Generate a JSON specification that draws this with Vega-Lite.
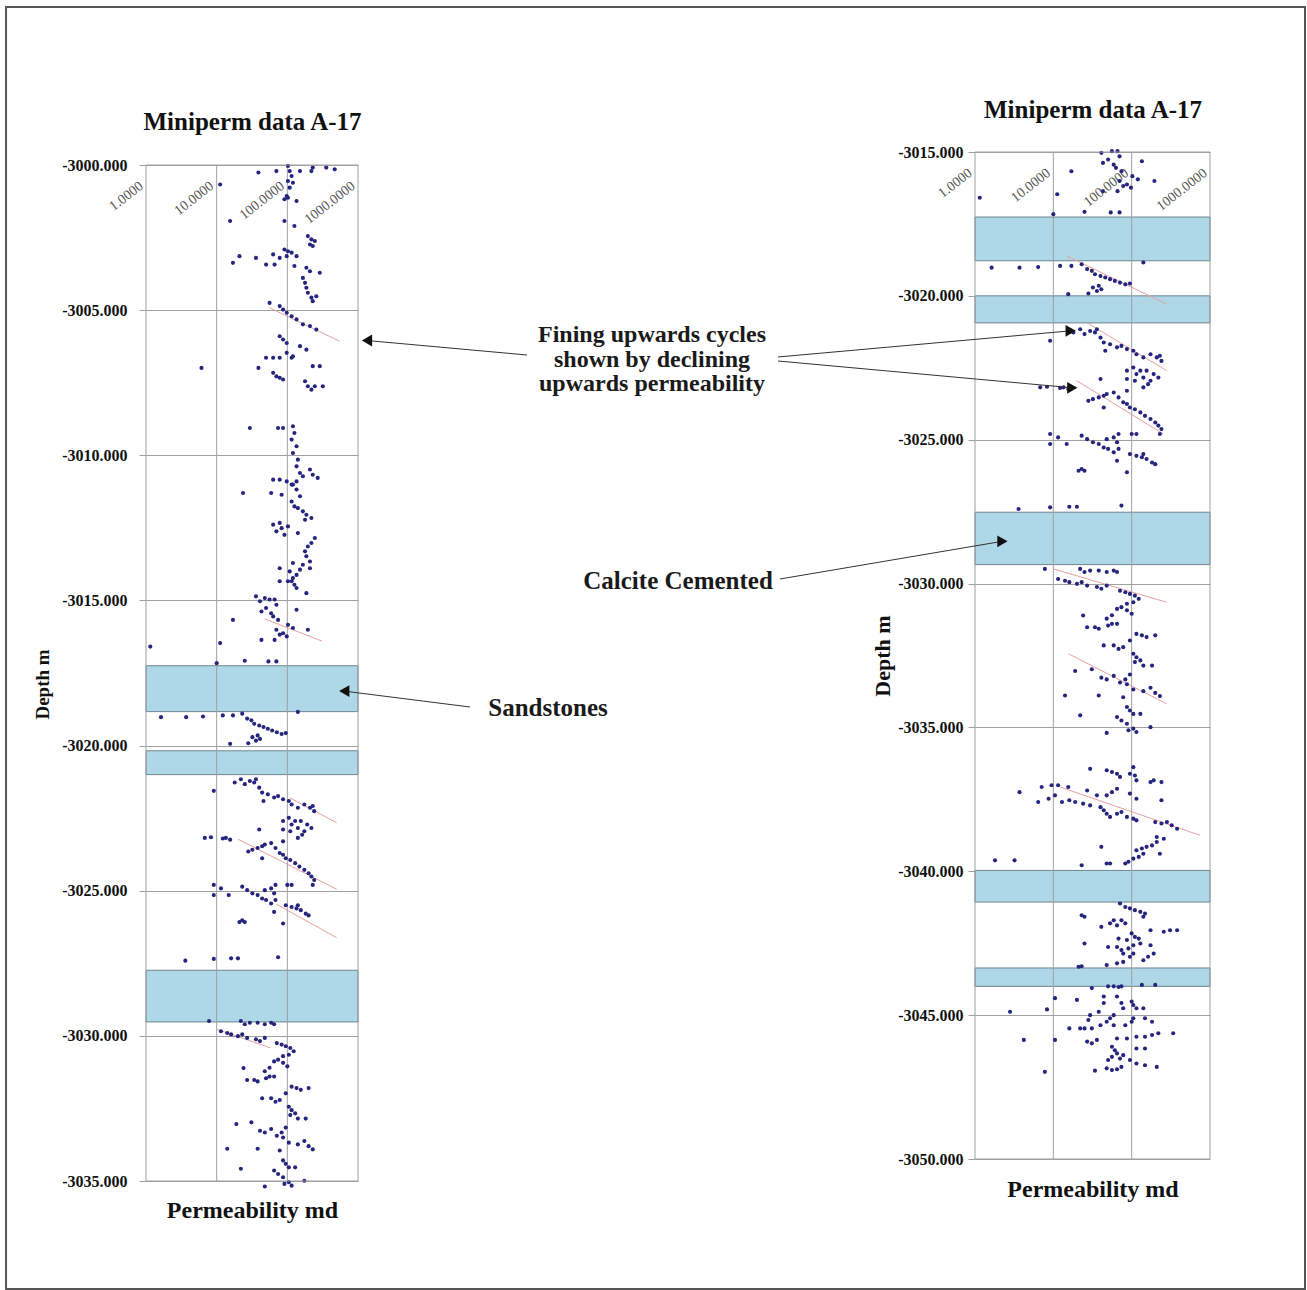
{
  "$schema": "https://vega.github.io/schema/vega-lite/v6.json",
  "background": "white",
  "padding": {"left": 5, "top": 5, "right": 0, "bottom": 0},
  "bounds": "flush",
  "spacing": 617,
  "config": {
    "view": {"stroke": null},
    "axis": {"labelFont": "Liberation Serif", "titleFont": "Liberation Serif", "titleColor": "#111", "labelColor": "#111"},
    "text": {"font": "Liberation Serif"}
  },
  "datasets": {
    "pts": [
      {"p":102,"d":-3000.03},{"p":108,"d":-3000.21},{"p":115,"d":-3000.38},{"p":102,"d":-3000.55},{"p":120,"d":-3000.61},{"p":108,"d":-3000.78},{"p":229,"d":-3000.09},{"p":219,"d":-3000.21},{"p":355,"d":-3000.09},{"p":468,"d":-3000.15},{"p":70,"d":-3000.21},{"p":39,"d":-3000.26},{"p":151,"d":-3000.21},{"p":98,"d":-3001.07},{"p":102,"d":-3001.13},{"p":91,"d":-3001.18},{"p":135,"d":-3001.24},{"p":11.2,"d":-3000.67},{"p":91,"d":-3001.93},{"p":126,"d":-3002.1},{"p":15.5,"d":-3001.93},{"p":195,"d":-3002.45},{"p":219,"d":-3002.56},{"p":245,"d":-3002.62},{"p":209,"d":-3002.74},{"p":229,"d":-3002.79},{"p":91,"d":-3002.91},{"p":102,"d":-3002.97},{"p":115,"d":-3003.02},{"p":135,"d":-3003.14},{"p":98,"d":-3003.14},{"p":17,"d":-3003.37},{"p":21,"d":-3003.14},{"p":36,"d":-3003.2},{"p":50,"d":-3003.43},{"p":66,"d":-3003.43},{"p":63,"d":-3003.08},{"p":78,"d":-3003.2},{"p":126,"d":-3003.48},{"p":186,"d":-3003.54},{"p":288,"d":-3003.71},{"p":209,"d":-3003.66},{"p":166,"d":-3003.89},{"p":178,"d":-3004.06},{"p":186,"d":-3004.23},{"p":195,"d":-3004.4},{"p":219,"d":-3004.57},{"p":229,"d":-3004.69},{"p":257,"d":-3004.52},{"p":56,"d":-3004.75},{"p":78,"d":-3004.86},{"p":87,"d":-3004.98},{"p":98,"d":-3005.09},{"p":115,"d":-3005.21},{"p":135,"d":-3005.32},{"p":166,"d":-3005.49},{"p":209,"d":-3005.55},{"p":257,"d":-3005.67},{"p":78,"d":-3005.9},{"p":87,"d":-3006.01},{"p":98,"d":-3006.13},{"p":151,"d":-3006.24},{"p":186,"d":-3006.36},{"p":120,"d":-3006.59},{"p":98,"d":-3006.47},{"p":50,"d":-3006.64},{"p":63,"d":-3006.64},{"p":78,"d":-3006.64},{"p":115,"d":-3006.64},{"p":229,"d":-3006.93},{"p":288,"d":-3006.93},{"p":6.1,"d":-3006.99},{"p":39,"d":-3006.99},{"p":63,"d":-3007.16},{"p":70,"d":-3007.28},{"p":78,"d":-3007.33},{"p":87,"d":-3007.39},{"p":178,"d":-3007.45},{"p":195,"d":-3007.62},{"p":219,"d":-3007.74},{"p":245,"d":-3007.62},{"p":318,"d":-3007.62},{"p":29.5,"d":-3009.06},{"p":74,"d":-3009.06},{"p":87,"d":-3009.06},{"p":120,"d":-3009.0},{"p":126,"d":-3009.23},{"p":115,"d":-3009.46},{"p":135,"d":-3009.69},{"p":120,"d":-3009.92},{"p":141,"d":-3010.15},{"p":135,"d":-3010.38},{"p":151,"d":-3010.61},{"p":166,"d":-3010.72},{"p":209,"d":-3010.49},{"p":229,"d":-3010.67},{"p":269,"d":-3010.78},{"p":63,"d":-3010.84},{"p":78,"d":-3010.84},{"p":98,"d":-3010.9},{"p":115,"d":-3011.01},{"p":135,"d":-3010.9},
      {"p":23.6,"d":-3011.3},{"p":59,"d":-3011.3},{"p":83,"d":-3011.36},{"p":120,"d":-3011.01},{"p":135,"d":-3011.18},{"p":151,"d":-3011.41},{"p":115,"d":-3011.59},{"p":126,"d":-3011.76},{"p":141,"d":-3011.82},{"p":166,"d":-3011.93},{"p":186,"d":-3012.05},{"p":219,"d":-3012.16},{"p":178,"d":-3012.22},{"p":63,"d":-3012.39},{"p":70,"d":-3012.62},{"p":83,"d":-3012.51},{"p":91,"d":-3012.74},{"p":102,"d":-3012.45},{"p":78,"d":-3012.33},{"p":141,"d":-3012.68},{"p":245,"d":-3012.85},{"p":219,"d":-3013.02},{"p":195,"d":-3013.14},{"p":178,"d":-3013.31},{"p":186,"d":-3013.48},{"p":209,"d":-3013.66},{"p":166,"d":-3013.77},{"p":151,"d":-3013.94},{"p":135,"d":-3014.12},{"p":120,"d":-3014.23},{"p":115,"d":-3014.34},{"p":126,"d":-3014.46},{"p":135,"d":-3014.57},{"p":186,"d":-3014.75},{"p":120,"d":-3013.71},{"p":209,"d":-3013.89},{"p":108,"d":-3014.0},{"p":102,"d":-3014.34},{"p":78,"d":-3014.34},{"p":78,"d":-3013.89},{"p":36,"d":-3014.86},{"p":41,"d":-3015.03},{"p":48,"d":-3014.92},{"p":56,"d":-3014.97},{"p":66,"d":-3014.97},{"p":70,"d":-3015.15},{"p":50,"d":-3015.26},{"p":59,"d":-3015.44},{"p":74,"d":-3015.67},{"p":43,"d":-3015.38},{"p":63,"d":-3015.55},{"p":17,"d":-3015.67},{"p":135,"d":-3015.32},{"p":102,"d":-3015.84},{"p":120,"d":-3015.95},{"p":87,"d":-3016.13},{"p":78,"d":-3016.18},{"p":98,"d":-3016.24},{"p":70,"d":-3016.01},{"p":195,"d":-3016.01},{"p":66,"d":-3016.36},{"p":43,"d":-3016.36},{"p":1.15,"d":-3016.59},{"p":11.2,"d":-3016.47},{"p":10,"d":-3017.16},{"p":25,"d":-3017.08},{"p":54,"d":-3017.1},{"p":70,"d":-3017.1},
      {"p":1.63,"d":-3019.02},{"p":3.7,"d":-3019.02},{"p":6.4,"d":-3019.0},{"p":12.2,"d":-3018.96},{"p":17,"d":-3018.96},{"p":23,"d":-3018.9},{"p":141,"d":-3018.84},
      {"p":27,"d":-3019.07},{"p":31,"d":-3019.13},{"p":34,"d":-3019.25},{"p":40,"d":-3019.31},{"p":46,"d":-3019.36},{"p":53,"d":-3019.42},{"p":61,"d":-3019.48},{"p":71,"d":-3019.54},{"p":83,"d":-3019.6},{"p":95,"d":-3019.57},{"p":32,"d":-3019.71},{"p":36,"d":-3019.83},{"p":41,"d":-3019.77},{"p":38,"d":-3019.65},{"p":15.5,"d":-3019.94},{"p":28,"d":-3019.92},
      {"p":9.1,"d":-3021.56},{"p":18,"d":-3021.27},{"p":22,"d":-3021.16},{"p":25,"d":-3021.33},{"p":29.5,"d":-3021.22},{"p":34,"d":-3021.27},{"p":36,"d":-3021.16},{"p":40,"d":-3021.45},{"p":44,"d":-3021.62},{"p":46,"d":-3021.91},{"p":53,"d":-3021.68},{"p":65,"d":-3021.79},{"p":74,"d":-3021.74},{"p":87,"d":-3021.85},{"p":105,"d":-3021.91},{"p":115,"d":-3022.03},{"p":141,"d":-3022.14},{"p":174,"d":-3022.03},{"p":209,"d":-3022.14},{"p":229,"d":-3022.08},{"p":240,"d":-3022.26},
      {"p":87,"d":-3022.6},{"p":105,"d":-3022.49},{"p":115,"d":-3022.72},{"p":129,"d":-3022.6},{"p":141,"d":-3022.84},{"p":155,"d":-3022.6},{"p":174,"d":-3022.95},{"p":191,"d":-3022.72},{"p":162,"d":-3023.07},{"p":141,"d":-3023.18},{"p":87,"d":-3022.89},{"p":110,"d":-3022.95},{"p":219,"d":-3022.84},{"p":40,"d":-3022.89},{"p":6.8,"d":-3023.18},{"p":8.3,"d":-3023.16},{"p":13.5,"d":-3023.18},{"p":15.5,"d":-3023.24},{"p":12.2,"d":-3023.2},
      {"p":28,"d":-3023.65},{"p":32,"d":-3023.59},{"p":38,"d":-3023.53},{"p":44,"d":-3023.47},{"p":48,"d":-3023.41},{"p":59,"d":-3023.36},{"p":68,"d":-3023.53},{"p":78,"d":-3023.7},{"p":87,"d":-3023.76},{"p":95,"d":-3023.88},{"p":110,"d":-3023.94},{"p":129,"d":-3024.05},{"p":148,"d":-3024.17},{"p":174,"d":-3024.28},{"p":200,"d":-3024.4},{"p":219,"d":-3024.51},{"p":240,"d":-3024.63},{"p":229,"d":-3024.8},{"p":44,"d":-3023.88},{"p":87,"d":-3023.3},
      {"p":9.1,"d":-3024.8},{"p":11.5,"d":-3024.92},{"p":14.8,"d":-3025.15},{"p":9.1,"d":-3025.15},{"p":23,"d":-3024.86},{"p":27,"d":-3024.98},{"p":32,"d":-3025.09},{"p":38,"d":-3025.15},{"p":44,"d":-3025.27},{"p":50,"d":-3025.32},{"p":59,"d":-3025.44},{"p":68,"d":-3025.32},{"p":48,"d":-3024.98},{"p":59,"d":-3024.92},{"p":65,"d":-3025.09},{"p":68,"d":-3024.8},{"p":95,"d":-3025.5},{"p":115,"d":-3025.56},{"p":135,"d":-3025.61},{"p":155,"d":-3025.67},{"p":182,"d":-3025.79},{"p":200,"d":-3025.85},{"p":141,"d":-3025.5},{"p":100,"d":-3024.8},{"p":115,"d":-3024.8},{"p":65,"d":-3025.73},{"p":87,"d":-3026.13},{"p":21,"d":-3026.08},{"p":23,"d":-3026.02},{"p":25,"d":-3026.08},
      {"p":3.6,"d":-3027.41},{"p":9.1,"d":-3027.35},{"p":16,"d":-3027.33},{"p":20,"d":-3027.33},{"p":74,"d":-3027.29},
      {"p":7.8,"d":-3029.49},{"p":22,"d":-3029.49},{"p":25,"d":-3029.6},{"p":29.5,"d":-3029.55},{"p":38,"d":-3029.55},{"p":48,"d":-3029.6},{"p":59,"d":-3029.55},{"p":65,"d":-3029.6},{"p":11.5,"d":-3029.84},{"p":14.1,"d":-3029.9},{"p":16,"d":-3029.95},{"p":20,"d":-3030.01},{"p":23,"d":-3029.95},{"p":27,"d":-3030.07},{"p":36,"d":-3030.12},{"p":41,"d":-3030.18},{"p":48,"d":-3030.07},
      {"p":71,"d":-3030.25},{"p":83,"d":-3030.3},{"p":95,"d":-3030.36},{"p":110,"d":-3030.42},{"p":123,"d":-3030.53},{"p":105,"d":-3030.65},{"p":87,"d":-3030.7},{"p":74,"d":-3030.82},{"p":65,"d":-3030.88},{"p":87,"d":-3030.93},{"p":100,"d":-3031.05},{"p":56,"d":-3031.1},{"p":48,"d":-3031.22},{"p":56,"d":-3031.4},{"p":65,"d":-3031.4},{"p":50,"d":-3031.46},
      {"p":24,"d":-3031.11},{"p":27,"d":-3031.52},{"p":34,"d":-3031.52},{"p":38,"d":-3031.57},
      {"p":44,"d":-3032.15},{"p":59,"d":-3032.15},{"p":68,"d":-3032.27},{"p":78,"d":-3032.21},{"p":95,"d":-3031.98},{"p":115,"d":-3031.75},{"p":135,"d":-3031.8},{"p":155,"d":-3031.86},{"p":200,"d":-3031.8},{"p":105,"d":-3032.44},{"p":115,"d":-3032.56},{"p":129,"d":-3032.67},{"p":110,"d":-3032.73},{"p":141,"d":-3032.85},{"p":182,"d":-3032.85},
      {"p":19,"d":-3033.04},{"p":31,"d":-3032.98},{"p":41,"d":-3033.27},{"p":48,"d":-3033.33},{"p":59,"d":-3033.21},{"p":71,"d":-3033.44},{"p":83,"d":-3033.33},{"p":95,"d":-3033.16},{"p":87,"d":-3033.5},{"p":105,"d":-3033.68},{"p":141,"d":-3033.74},{"p":174,"d":-3033.62},{"p":200,"d":-3033.8},{"p":229,"d":-3033.91},{"p":14.1,"d":-3033.89},{"p":38,"d":-3033.89},{"p":78,"d":-3033.95},
      {"p":22,"d":-3034.58},{"p":87,"d":-3034.29},{"p":95,"d":-3034.41},{"p":105,"d":-3034.53},{"p":129,"d":-3034.53},{"p":65,"d":-3034.64},{"p":74,"d":-3034.76},{"p":87,"d":-3034.87},{"p":105,"d":-3035.04},{"p":115,"d":-3035.16},{"p":91,"d":-3035.1},{"p":174,"d":-3034.99},{"p":48,"d":-3035.19},
      {"p":29.5,"d":-3036.44},{"p":48,"d":-3036.49},{"p":56,"d":-3036.55},{"p":65,"d":-3036.61},{"p":71,"d":-3036.72},{"p":95,"d":-3036.61},{"p":105,"d":-3036.38},{"p":110,"d":-3036.67},{"p":115,"d":-3036.84},{"p":174,"d":-3036.9},{"p":191,"d":-3036.84},{"p":240,"d":-3036.9},
      {"p":3.7,"d":-3037.25},{"p":7.1,"d":-3037.07},{"p":9.5,"d":-3037.01},{"p":11.5,"d":-3037.01},{"p":15.5,"d":-3037.07},{"p":6.4,"d":-3037.59},{"p":8.7,"d":-3037.48},{"p":10.5,"d":-3037.36},{"p":12.9,"d":-3037.59},{"p":16,"d":-3037.53},{"p":19,"d":-3037.59},{"p":24,"d":-3037.65},{"p":29.5,"d":-3037.71},{"p":27,"d":-3037.19},{"p":36,"d":-3037.36},{"p":48,"d":-3037.36},{"p":56,"d":-3037.25},{"p":65,"d":-3037.13},{"p":95,"d":-3037.3},{"p":115,"d":-3037.48},{"p":240,"d":-3037.53},
      {"p":40,"d":-3037.77},{"p":44,"d":-3037.88},{"p":48,"d":-3038.0},{"p":53,"d":-3038.11},{"p":65,"d":-3038.0},{"p":74,"d":-3037.94},{"p":87,"d":-3038.11},{"p":105,"d":-3038.17},{"p":115,"d":-3038.23},{"p":200,"d":-3038.29},{"p":240,"d":-3038.34},{"p":282,"d":-3038.29},{"p":324,"d":-3038.4},{"p":380,"d":-3038.52},{"p":209,"d":-3038.81},{"p":257,"d":-3038.87},
      {"p":209,"d":-3038.98},{"p":182,"d":-3039.1},{"p":155,"d":-3039.15},{"p":135,"d":-3039.21},{"p":115,"d":-3039.27},{"p":141,"d":-3039.39},{"p":123,"d":-3039.5},{"p":105,"d":-3039.56},{"p":91,"d":-3039.67},{"p":83,"d":-3039.73},{"p":53,"d":-3039.73},{"p":48,"d":-3039.73},{"p":229,"d":-3039.39},{"p":41,"d":-3039.15},{"p":23,"d":-3039.79},{"p":1.8,"d":-3039.62},{"p":3.2,"d":-3039.62},
      {"p":71,"d":-3041.12},{"p":83,"d":-3041.24},{"p":95,"d":-3041.29},{"p":110,"d":-3041.35},{"p":129,"d":-3041.41},{"p":148,"d":-3041.47},{"p":141,"d":-3041.58},{"p":23,"d":-3041.53},{"p":25,"d":-3041.58},
      {"p":41,"d":-3041.93},{"p":53,"d":-3041.81},{"p":59,"d":-3041.7},{"p":65,"d":-3041.88},{"p":74,"d":-3041.7},{"p":83,"d":-3041.81},{"p":174,"d":-3042.05},{"p":257,"d":-3042.1},{"p":309,"d":-3042.05},{"p":380,"d":-3042.05},
      {"p":100,"d":-3042.16},{"p":110,"d":-3042.28},{"p":123,"d":-3042.34},{"p":87,"d":-3042.39},{"p":129,"d":-3042.51},{"p":105,"d":-3042.57},{"p":91,"d":-3042.68},{"p":74,"d":-3042.74},{"p":65,"d":-3042.63},{"p":68,"d":-3042.34},{"p":50,"d":-3042.63},{"p":25,"d":-3042.51},{"p":174,"d":-3042.57},{"p":191,"d":-3042.86},{"p":162,"d":-3042.97},{"p":141,"d":-3043.09},{"p":105,"d":-3042.86},{"p":95,"d":-3042.97},{"p":78,"d":-3042.86},{"p":65,"d":-3043.2},{"p":48,"d":-3043.26},{"p":21,"d":-3043.32},{"p":23,"d":-3043.3},{"p":78,"d":-3043.15},
      {"p":50,"d":-3044.0},{"p":59,"d":-3044.0},{"p":68,"d":-3044.02},{"p":74,"d":-3044.0},{"p":135,"d":-3043.95},{"p":200,"d":-3043.95},
      {"p":31,"d":-3044.06},{"p":10.5,"d":-3044.41},{"p":20,"d":-3044.47},{"p":44,"d":-3044.35},{"p":44,"d":-3044.58},{"p":65,"d":-3044.35},{"p":74,"d":-3044.58},{"p":78,"d":-3044.76},{"p":100,"d":-3044.53},{"p":105,"d":-3044.65},{"p":115,"d":-3044.76},{"p":141,"d":-3044.76},{"p":148,"d":-3045.11},{"p":182,"d":-3045.23},{"p":105,"d":-3045.11},{"p":100,"d":-3045.23},{"p":59,"d":-3045.0},{"p":53,"d":-3045.11},{"p":48,"d":-3045.23},{"p":38,"d":-3044.88},{"p":29.5,"d":-3045.0},{"p":28,"d":-3045.17},{"p":25,"d":-3045.46},{"p":22,"d":-3045.46},{"p":16,"d":-3045.46},{"p":2.8,"d":-3044.88},{"p":8.3,"d":-3044.8},{"p":31,"d":-3045.46},{"p":40,"d":-3045.35},{"p":59,"d":-3045.35},{"p":83,"d":-3045.35},
      {"p":4.2,"d":-3045.86},{"p":10.5,"d":-3045.86},{"p":27,"d":-3045.92},{"p":31,"d":-3045.98},{"p":36,"d":-3045.86},{"p":65,"d":-3045.81},{"p":87,"d":-3045.81},{"p":115,"d":-3045.75},{"p":148,"d":-3045.75},{"p":182,"d":-3045.69},{"p":219,"d":-3045.63},{"p":339,"d":-3045.63},{"p":115,"d":-3046.16},{"p":148,"d":-3046.16},
      {"p":56,"d":-3046.1},{"p":61,"d":-3046.22},{"p":65,"d":-3046.33},{"p":56,"d":-3046.45},{"p":50,"d":-3046.56},{"p":71,"d":-3046.51},{"p":78,"d":-3046.39},{"p":95,"d":-3046.56},{"p":115,"d":-3046.68},{"p":148,"d":-3046.74},{"p":209,"d":-3046.8},{"p":48,"d":-3046.85},{"p":56,"d":-3046.91},{"p":65,"d":-3046.88},{"p":74,"d":-3046.8},{"p":34,"d":-3046.93},{"p":7.8,"d":-3046.97}
    ],
    "bands": [
      {"panel":"L","a":-3017.25,"b":-3018.83},{"panel":"L","a":-3020.18,"b":-3021.0},{"panel":"L","a":-3027.74,"b":-3029.52},
      {"panel":"R","a":-3017.26,"b":-3018.78},{"panel":"R","a":-3020.0,"b":-3020.94},{"panel":"R","a":-3027.52,"b":-3029.34},{"panel":"R","a":-3039.97,"b":-3041.07},{"panel":"R","a":-3043.36,"b":-3044.0}
    ],
    "trends": [
      {"panel":"L","p1":56.4,"d1":-3004.92,"p2":550,"d2":-3006.07},{"panel":"L","p1":48.3,"d1":-3015.64,"p2":309,"d2":-3016.4},{"panel":"L","p1":109,"d1":-3021.8,"p2":500,"d2":-3022.66},{"panel":"L","p1":20.2,"d1":-3023.23,"p2":500,"d2":-3024.95},{"panel":"L","p1":70.7,"d1":-3025.47,"p2":500,"d2":-3026.62},{"panel":"L","p1":10,"d1":-3029.77,"p2":56.9,"d2":-3030.41},
      {"panel":"R","p1":14.8,"d1":-3018.61,"p2":280,"d2":-3020.29},{"panel":"R","p1":26.7,"d1":-3020.93,"p2":280,"d2":-3022.6},{"panel":"R","p1":19.9,"d1":-3022.95,"p2":254,"d2":-3024.8},{"panel":"R","p1":10,"d1":-3029.49,"p2":280,"d2":-3030.65},{"panel":"R","p1":15.6,"d1":-3032.44,"p2":280,"d2":-3034.18},{"panel":"R","p1":12.2,"d1":-3037.07,"p2":748,"d2":-3038.75}
    ],
    "grid": [{"v":10},{"v":100}],
    "frame": [{"p1":4.27e-13,"p2":16323,"d1":-3009.96,"d2":-3054.52}],
    "notes": [
      {"t":"Fining upwards cycles\nshown by declining\nupwards permeability","p":7.53e-5,"d":-3021.604,"s":24},
      {"t":"Calcite Cemented","p":1.617e-4,"d":-3030.189,"s":25},
      {"t":"Sandstones","p":3.54e-6,"d":-3034.603,"s":25}
    ],
    "arrows": [
      {"p1":1.91e-6,"d1":-3022.056,"p2":1.73e-8,"d2":-3021.552,"dir":"left"},
      {"p1":0.003055,"d1":-3022.125,"p2":16.66,"d2":-3021.215,"dir":"right"},
      {"p1":0.003055,"d1":-3022.264,"p2":17.47,"d2":-3023.196,"dir":"right"},
      {"p1":0.003243,"d1":-3029.841,"p2":2.238,"d2":-3028.531,"dir":"right"},
      {"p1":3.57e-7,"d1":-3034.29,"p2":8.87e-9,"d2":-3033.738,"dir":"left"}
    ]
  },
  "hconcat": [
    {
      "width": 212,
      "height": 1029,
      "layer": [
        {
          "data": {"name": "bands"},
          "transform": [{"filter": "datum.panel == 'L'"}],
          "mark": {"type": "rect", "fill": "#aed7e7", "stroke": "#6f8590", "strokeWidth": 1},
          "encoding": {
            "x": {"datum": 1, "type": "quantitative", "scale": {"type": "log", "domain": [1, 1000], "nice": false}, "axis": null},
            "x2": {"datum": 1000},
            "y": {"field": "a", "type": "quantitative", "scale": {"domain": [-3035, -2999.552], "nice": false, "zero": false}, "axis": null},
            "y2": {"field": "b"}
          }
        },
        {
          "data": {"name": "trends"},
          "transform": [{"filter": "datum.panel == 'L'"}],
          "mark": {"type": "rule", "color": "#e8a0a0", "strokeWidth": 1},
          "encoding": {
            "x": {"field": "p1", "type": "quantitative", "scale": {"type": "log", "domain": [1, 1000], "nice": false},
              "axis": {"orient": "bottom", "labels": false, "ticks": false, "domain": false, "grid": false, "title": "Permeability md", "titleFontSize": 24, "titleFontWeight": "bold", "titlePadding": 17, "minExtent": 0, "maxExtent": 0}},
            "x2": {"field": "p2"},
            "y": {"field": "d1", "type": "quantitative", "scale": {"domain": [-3035, -2999.552], "nice": false, "zero": false}, "axis": null},
            "y2": {"field": "d2"}
          }
        },
        {
          "data": {"name": "grid"},
          "mark": {"type": "rule", "color": "#a0a0a0", "strokeWidth": 1},
          "encoding": {
            "x": {"field": "v", "type": "quantitative", "scale": {"type": "log", "domain": [1, 1000], "nice": false},
              "axis": {"orient": "top", "values": [1, 10, 100, 1000], "format": ".4f", "labelAngle": -38, "labelAlign": "right", "labelBaseline": "middle", "labelPadding": -32, "labelOffset": -5, "labelFontSize": 14, "labelColor": "#555", "labelFlush": false, "labelOverlap": false, "labelBound": false, "ticks": false, "tickSize": 0, "domain": false, "grid": false, "title": "Miniperm data A-17", "titleFontSize": 25, "titleFontWeight": "bold", "titlePadding": 18, "minExtent": 0, "maxExtent": 0}},
            "y": {"datum": -3000, "type": "quantitative", "scale": {"domain": [-3035, -2999.552], "nice": false, "zero": false}, "axis": null},
            "y2": {"datum": -3035}
          }
        },
        {
          "data": {"name": "pts"},
          "transform": [{"filter": "datum.d >= -3035.2"}],
          "mark": {"type": "circle", "color": "#25257e", "size": 17, "opacity": 1},
          "encoding": {
            "x": {"field": "p", "type": "quantitative", "scale": {"type": "log", "domain": [1, 1000], "nice": false}, "axis": null},
            "y": {"field": "d", "type": "quantitative", "scale": {"domain": [-3035, -2999.552], "nice": false, "zero": false},
              "axis": {"orient": "left", "values": [-3000, -3005, -3010, -3015, -3020, -3025, -3030, -3035], "labelExpr": "'-' + format(-datum.value, '.3f')", "labelFontSize": 16, "labelFontWeight": "bold", "labelPadding": 12, "tickSize": 7, "tickColor": "#a0a0a0", "domain": false, "grid": true, "gridColor": "#a0a0a0", "title": "Depth m", "titleFontSize": 19, "titleFontWeight": "bold", "titlePadding": 9, "titleY": 532}}
          }
        },
        {
          "data": {"values": [{}]},
          "mark": {"type": "rect", "filled": false, "stroke": "#a0a0a0", "strokeWidth": 1},
          "encoding": {
            "x": {"datum": 1, "type": "quantitative", "scale": {"type": "log", "domain": [1, 1000], "nice": false}, "axis": null},
            "x2": {"datum": 1000},
            "y": {"datum": -3000, "type": "quantitative", "scale": {"domain": [-3035, -2999.552], "nice": false, "zero": false}, "axis": null},
            "y2": {"datum": -3035}
          }
        }
      ],
      "resolve": {"axis": {"x": "independent", "y": "independent"}}
    },
    {
      "width": 235,
      "height": 1007,
      "layer": [
        {
          "data": {"name": "bands"},
          "transform": [{"filter": "datum.panel == 'R'"}],
          "mark": {"type": "rect", "fill": "#aed7e7", "stroke": "#6f8590", "strokeWidth": 1},
          "encoding": {
            "x": {"datum": 1, "type": "quantitative", "scale": {"type": "log", "domain": [1, 1000], "nice": false}, "axis": null},
            "x2": {"datum": 1000},
            "y": {"field": "a", "type": "quantitative", "scale": {"domain": [-3050, -3015], "nice": false, "zero": false}, "axis": null},
            "y2": {"field": "b"}
          }
        },
        {
          "data": {"name": "trends"},
          "transform": [{"filter": "datum.panel == 'R'"}],
          "mark": {"type": "rule", "color": "#e8a0a0", "strokeWidth": 1},
          "encoding": {
            "x": {"field": "p1", "type": "quantitative", "scale": {"type": "log", "domain": [1, 1000], "nice": false},
              "axis": {"orient": "bottom", "labels": false, "ticks": false, "domain": false, "grid": false, "title": "Permeability md", "titleFontSize": 24, "titleFontWeight": "bold", "titlePadding": 18, "minExtent": 0, "maxExtent": 0}},
            "x2": {"field": "p2"},
            "y": {"field": "d1", "type": "quantitative", "scale": {"domain": [-3050, -3015], "nice": false, "zero": false}, "axis": null},
            "y2": {"field": "d2"}
          }
        },
        {
          "data": {"name": "grid"},
          "mark": {"type": "rule", "color": "#a0a0a0", "strokeWidth": 1},
          "encoding": {
            "x": {"field": "v", "type": "quantitative", "scale": {"type": "log", "domain": [1, 1000], "nice": false},
              "axis": {"orient": "top", "values": [1, 10, 100, 1000], "format": ".4f", "labelAngle": -38, "labelAlign": "right", "labelBaseline": "middle", "labelPadding": -19, "labelOffset": -5, "labelFontSize": 14, "labelColor": "#555", "labelFlush": false, "labelOverlap": false, "labelBound": false, "ticks": false, "tickSize": 0, "domain": false, "grid": false, "title": "Miniperm data A-17", "titleFontSize": 25, "titleFontWeight": "bold", "titlePadding": 30, "minExtent": 0, "maxExtent": 0}},
            "y": {"datum": -3015, "type": "quantitative", "scale": {"domain": [-3050, -3015], "nice": false, "zero": false}, "axis": null},
            "y2": {"datum": -3050}
          }
        },
        {
          "data": {"name": "pts"},
          "transform": [{"filter": "datum.d <= -3014.95"}],
          "mark": {"type": "circle", "color": "#25257e", "size": 17, "opacity": 1},
          "encoding": {
            "x": {"field": "p", "type": "quantitative", "scale": {"type": "log", "domain": [1, 1000], "nice": false}, "axis": null},
            "y": {"field": "d", "type": "quantitative", "scale": {"domain": [-3050, -3015], "nice": false, "zero": false},
              "axis": {"orient": "left", "values": [-3015, -3020, -3025, -3030, -3035, -3040, -3045, -3050], "labelExpr": "'-' + format(-datum.value, '.3f')", "labelFontSize": 16, "labelFontWeight": "bold", "labelPadding": 5, "tickSize": 7, "tickColor": "#a0a0a0", "domain": false, "grid": true, "gridColor": "#a0a0a0", "title": "Depth m", "titleFontSize": 22, "titleFontWeight": "bold", "titlePadding": 3}}
          }
        },
        {
          "data": {"values": [{}]},
          "mark": {"type": "rect", "filled": false, "stroke": "#a0a0a0", "strokeWidth": 1},
          "encoding": {
            "x": {"datum": 1, "type": "quantitative", "scale": {"type": "log", "domain": [1, 1000], "nice": false}, "axis": null},
            "x2": {"datum": 1000},
            "y": {"datum": -3015, "type": "quantitative", "scale": {"domain": [-3050, -3015], "nice": false, "zero": false}, "axis": null},
            "y2": {"datum": -3050}
          }
        },
        {
          "data": {"name": "frame"},
          "mark": {"type": "rect", "filled": false, "stroke": "#555555", "strokeWidth": 2},
          "encoding": {
            "x": {"field": "p1", "type": "quantitative", "scale": {"type": "log", "domain": [1, 1000], "nice": false}, "axis": null},
            "x2": {"field": "p2"},
            "y": {"field": "d1", "type": "quantitative", "scale": {"domain": [-3050, -3015], "nice": false, "zero": false}, "axis": null},
            "y2": {"field": "d2"}
          }
        },
        {
          "data": {"name": "arrows"},
          "mark": {"type": "rule", "color": "#333333", "strokeWidth": 1},
          "encoding": {
            "x": {"field": "p1", "type": "quantitative", "scale": {"type": "log", "domain": [1, 1000], "nice": false}, "axis": null},
            "x2": {"field": "p2"},
            "y": {"field": "d1", "type": "quantitative", "scale": {"domain": [-3050, -3015], "nice": false, "zero": false}, "axis": null},
            "y2": {"field": "d2"}
          }
        },
        {
          "data": {"name": "arrows"},
          "mark": {"type": "point", "filled": true, "color": "#111111", "size": 140, "opacity": 1},
          "encoding": {
            "x": {"field": "p2", "type": "quantitative", "scale": {"type": "log", "domain": [1, 1000], "nice": false}, "axis": null},
            "y": {"field": "d2", "type": "quantitative", "scale": {"domain": [-3050, -3015], "nice": false, "zero": false}, "axis": null},
            "shape": {"field": "dir", "type": "nominal", "scale": {"domain": ["left", "right"], "range": ["triangle-left", "triangle-right"]}, "legend": null}
          }
        },
        {
          "data": {"name": "notes"},
          "mark": {"type": "text", "font": "Liberation Serif", "fontWeight": "bold", "align": "center", "baseline": "alphabetic", "color": "#1a1a1a", "lineBreak": "\n", "lineHeight": 24.5},
          "encoding": {
            "x": {"field": "p", "type": "quantitative", "scale": {"type": "log", "domain": [1, 1000], "nice": false}, "axis": null},
            "y": {"field": "d", "type": "quantitative", "scale": {"domain": [-3050, -3015], "nice": false, "zero": false}, "axis": null},
            "text": {"field": "t"},
            "size": {"field": "s", "type": "quantitative", "scale": null, "legend": null}
          }
        }
      ],
      "resolve": {"axis": {"x": "independent", "y": "independent"}}
    }
  ]
}
